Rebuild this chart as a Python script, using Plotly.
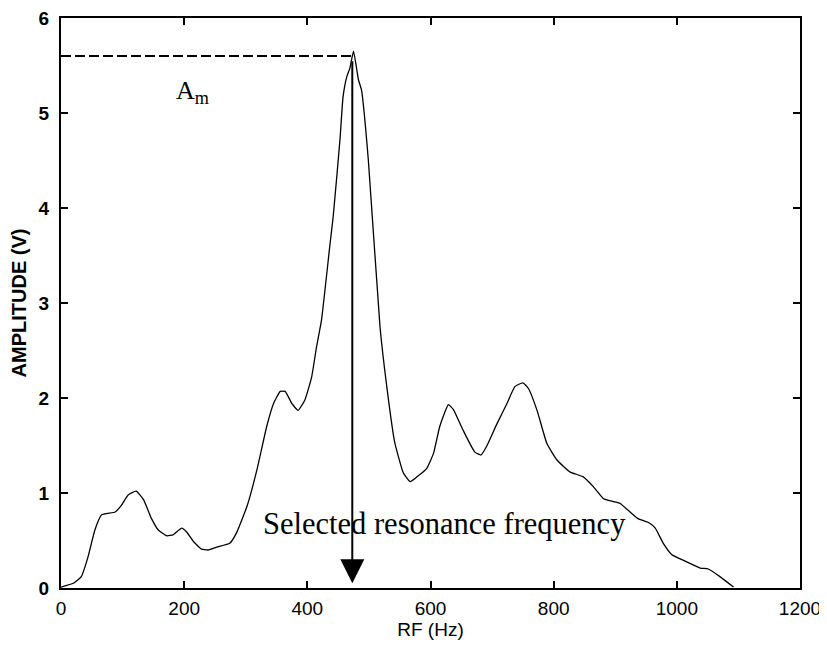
import plotly.graph_objects as go

# Frequency response
freq_hz = [0, 20, 33, 44, 55, 66, 88, 98, 109, 122, 134, 147, 158, 172, 182, 196, 204,
           215, 228, 239, 253, 274, 285, 302, 318, 334, 345, 356, 364, 375, 385, 396,
           407, 415, 423, 437, 442, 453, 458, 464, 469, 475, 483, 488, 499, 518, 529,
           542, 556, 567, 578, 594, 605, 615, 629, 637, 653, 672, 682, 691, 708, 724,
           737, 750, 759, 773, 789, 805, 816, 827, 848, 864, 881, 897, 908, 924, 937,
           954, 965, 978, 992, 1011, 1038, 1051, 1070, 1092]
amplitude_v = [0.01, 0.05, 0.12, 0.33, 0.61, 0.77, 0.80, 0.87, 0.98, 1.02, 0.93, 0.73,
               0.61, 0.55, 0.56, 0.63, 0.59, 0.49, 0.41, 0.40, 0.43, 0.47, 0.58, 0.86,
               1.24, 1.70, 1.94, 2.07, 2.07, 1.94, 1.87, 1.98, 2.22, 2.54, 2.82, 3.63,
               3.91, 4.72, 5.17, 5.38, 5.47, 5.65, 5.35, 5.24, 4.51, 2.75, 2.12, 1.53,
               1.21, 1.12, 1.17, 1.26, 1.42, 1.70, 1.93, 1.88, 1.66, 1.43, 1.40, 1.49,
               1.73, 1.94, 2.12, 2.16, 2.10, 1.87, 1.52, 1.35, 1.28, 1.22, 1.17, 1.07,
               0.94, 0.91, 0.89, 0.80, 0.73, 0.69, 0.63, 0.47, 0.35, 0.29, 0.21, 0.20,
               0.12, 0.01]

x_ticks = [0, 200, 400, 600, 800, 1000, 1200]
y_ticks = [0, 1, 2, 3, 4, 5, 6]

resonance_freq = 473
peak_amp = 5.6
arrow_tip_amp = 0.05
am_label_pos = (214, 5.22)
sel_label_pos = (622, 0.67)

fig = go.Figure()

fig.add_trace(go.Scatter(
    x=freq_hz, y=amplitude_v, mode="lines",
    line=dict(color="black", width=1.3, shape="spline", smoothing=0.4),
    showlegend=False, hoverinfo="skip"))

# dashed line marking the maximum amplitude
fig.add_trace(go.Scatter(
    x=[0, resonance_freq], y=[peak_amp, peak_amp], mode="lines",
    line=dict(color="black", width=2, dash="10px,4px"),
    showlegend=False, hoverinfo="skip"))

# vertical arrow to the selected resonance frequency
fig.add_annotation(
    x=resonance_freq, y=arrow_tip_amp, ax=resonance_freq, ay=max(amplitude_v),
    xref="x", yref="y", axref="x", ayref="y",
    showarrow=True, arrowhead=2, arrowsize=2.4, arrowwidth=2, arrowcolor="black",
    text=" ")

fig.add_annotation(
    x=am_label_pos[0], y=am_label_pos[1], xref="x", yref="y",
    text="A<sub>m</sub>", showarrow=False,
    font=dict(family="Liberation Serif, Times New Roman, serif", size=26, color="black"))

fig.add_annotation(
    x=sel_label_pos[0], y=sel_label_pos[1], xref="x", yref="y",
    text="Selected resonance frequency", showarrow=False,
    font=dict(family="Liberation Serif, Times New Roman, serif", size=30.5, color="black"))

axis_common = dict(
    showgrid=False, zeroline=False, showline=True, linecolor="black", linewidth=2,
    mirror="ticks", ticks="inside", ticklen=7, tickwidth=1.5, tickcolor="black",
    automargin=False, ticklabeloverflow="allow",
)

fig.update_xaxes(
    range=[0, 1200], tickvals=x_ticks, ticktext=[str(v) for v in x_ticks],
    title=dict(text="RF (Hz)", font=dict(family="Liberation Sans, Arial", size=19, color="black"),
               standoff=4),
    tickfont=dict(family="Liberation Sans, Arial", size=19, color="black"),
    ticklabelstandoff=2,
    **axis_common)

fig.update_yaxes(
    range=[0, 6], tickvals=y_ticks, ticktext=[str(v) for v in y_ticks],
    title=dict(text="AMPLITUDE (V)",
               font=dict(family="Liberation Sans, Arial", size=20, color="black", weight="bold"),
               standoff=11),
    tickfont=dict(family="Liberation Sans, Arial", size=19, color="black", weight="bold"),
    ticklabelstandoff=6,
    **axis_common)

# page body adds an 8px margin on the left/top
fig.update_layout(
    width=819, height=640,
    margin=dict(l=53, r=27, t=10, b=60),
    paper_bgcolor="white", plot_bgcolor="white",
)

fig.write_html("out.html")
